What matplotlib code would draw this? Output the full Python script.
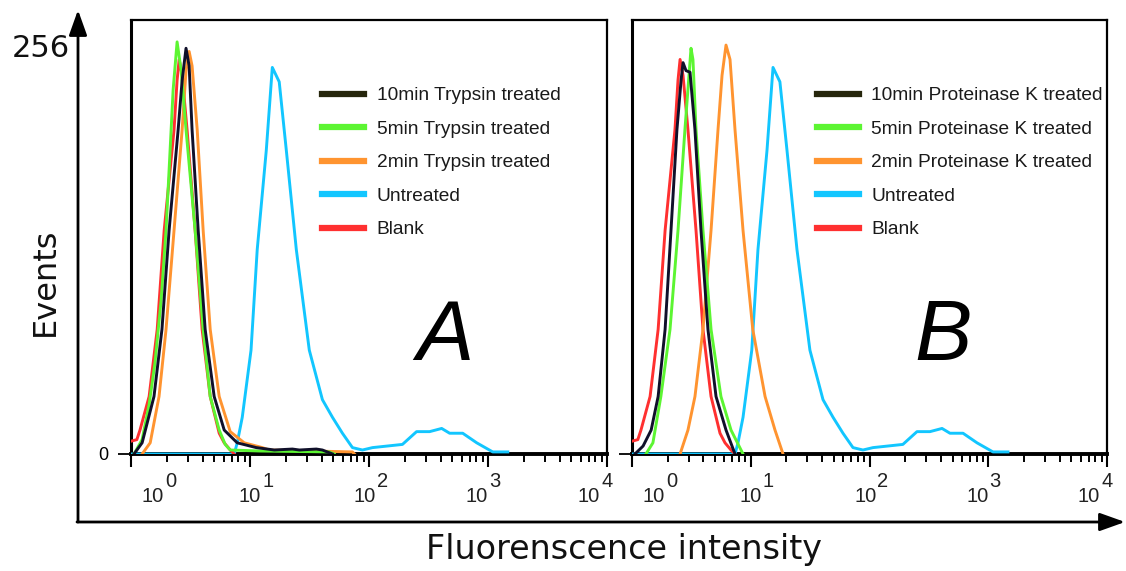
import matplotlib
matplotlib.use('Agg')
import matplotlib.pyplot as plt
from matplotlib import font_manager
from matplotlib.ticker import LogLocator, NullFormatter, FixedLocator
from matplotlib.transforms import blended_transform_factory, offset_copy

# Histogram traces: fluorescence intensity (x) vs events (y)
blank_x = [1.00, 1.12, 1.19, 1.42, 1.66, 1.90, 2.30, 2.44, 2.54, 2.69, 2.96, 3.46, 3.96, 4.63, 5.51, 6.07, 6.82, 7.37]
blank_y = [8, 9, 15, 36, 78, 140, 203, 234, 247, 237, 203, 140, 78, 36, 13, 7, 2.5, 0]

untreated_x = [1.00, 7.37, 7.81, 8.61, 10.2, 11.5, 13.7, 15.4, 17.6, 20.2, 24.5, 31.5, 40.6, 49.3, 59.8,
               72.6, 88.1, 107, 191, 251, 323, 408, 476, 613, 804, 1096, 1466]
untreated_y = [0, 0, 7, 23, 65, 128, 190, 242, 233, 190, 128, 65, 34, 23, 13,
               4, 2.5, 4, 6, 14, 14, 16, 13, 13, 7, 1.3, 1.3]

# panel A: trypsin
tryp10_x = [1.06, 1.24, 1.56, 1.82, 2.09, 2.49, 2.69, 2.90, 3.08, 3.26, 3.67, 4.20, 5.00, 6.07, 7.81,
            11.3, 16.0, 22.7, 26.0, 36.1, 40.6, 49.3]
tryp10_y = [0, 7, 36, 78, 140, 203, 234, 254, 243, 203, 140, 78, 36, 15, 7,
            4, 2.5, 3.1, 2.5, 3.1, 2.5, 0]
tryp5_x = [1.06, 1.24, 1.42, 1.59, 1.79, 1.97, 2.13, 2.26, 2.44, 2.64, 2.90, 3.46, 4.04, 4.63, 5.51,
           6.19, 6.82, 12.0, 46.5, 51.0]
tryp5_y = [0, 9, 31, 57, 96, 140, 190, 228, 258, 240, 203, 140, 78, 36, 15,
           6, 2.5, 1.9, 1.3, 0]
tryp2_x = [1.24, 1.45, 1.72, 1.97, 2.30, 2.69, 2.90, 3.08, 3.26, 3.60, 4.04, 4.63, 5.51, 6.82, 8.95,
           12.7, 14.5, 72.6, 75.5]
tryp2_y = [0, 7, 36, 78, 140, 203, 240, 252, 243, 203, 140, 78, 36, 14, 7,
           4, 2.5, 1.3, 0]

# panel B: proteinase K
pk10_x = [1.06, 1.24, 1.45, 1.66, 1.90, 2.13, 2.39, 2.59, 2.69, 2.85, 3.08, 3.39, 3.81, 4.36, 5.10, 6.19, 7.37]
pk10_y = [0, 5, 15, 36, 78, 140, 203, 234, 245, 240, 239, 203, 140, 78, 36, 15, 0]
pk5_x = [1.31, 1.50, 1.75, 2.09, 2.44, 2.79, 3.02, 3.14, 3.26, 3.46, 3.96, 4.63, 5.61, 6.82, 8.61]
pk5_y = [0, 7, 36, 78, 140, 203, 237, 254, 247, 203, 140, 78, 36, 15, 0]
pk2_x = [2.54, 2.96, 3.39, 3.96, 4.63, 5.30, 5.73, 6.19, 6.69, 7.37, 8.61, 10.4, 13.2, 16.0, 18.7]
pk2_y = [0, 15, 36, 78, 140, 203, 237, 256, 247, 203, 140, 78, 36, 15, 0]

decades = [0, 1, 2, 3, 4]
y_top = 271.7

c_black = '#10102a'
c_green = '#5cf532'
c_orange = '#ff9430'
c_blue = '#12c6ff'
c_red = '#ff3030'

try:
    font_manager.findfont('Liberation Sans Narrow', fallback_to_default=False)
    leg_font, leg_size, leg_space = 'Liberation Sans Narrow', 16.5, 0.45
except Exception:
    leg_font, leg_size, leg_space = 'Liberation Sans', 13.8, 0.84

fig = plt.figure(figsize=(11.26, 5.71), dpi=100)
W, H = 1126, 571
axA = fig.add_axes([131 / W, (H - 454) / H, 476 / W, 434 / H])
axB = fig.add_axes([632 / W, (H - 454) / H, 475 / W, 434 / H])


def setup(ax, show_zero):
    ax.set_xscale('log')
    ax.set_xlim(1, 1e4)
    ax.set_ylim(0, y_top)
    ax.xaxis.set_major_locator(FixedLocator([10.0 ** d for d in decades]))
    ax.xaxis.set_minor_locator(LogLocator(base=10, subs=range(2, 10)))
    ax.xaxis.set_major_formatter(NullFormatter())
    ax.xaxis.set_minor_formatter(NullFormatter())
    ax.tick_params(axis='x', which='major', length=9.5, width=1.5, direction='out')
    ax.tick_params(axis='x', which='minor', length=5.5, width=1.4, direction='out')
    ax.set_yticks([0])
    ax.set_yticklabels(['0'] if show_zero else [''], fontfamily='Liberation Sans', fontsize=13)
    ax.tick_params(axis='y', length=9.5, width=1.3, pad=7)
    for s in ['left', 'top', 'right']:
        ax.spines[s].set_linewidth(1.6)
    ax.spines['bottom'].set_linewidth(2.8)
    ax.spines['left'].set_linewidth(2.2)
    # decade labels 10^n drawn as base + raised exponent
    label_shift = [33, 11, 7, 0, -7]
    base = blended_transform_factory(ax.transData, ax.transAxes)
    for d, sh in zip(decades, label_shift):
        t1 = offset_copy(base, fig=fig, x=sh, y=-48, units='dots')
        ax.text(10.0 ** d, 0, '10', transform=t1, ha='right', va='baseline',
                fontsize=14.5, fontfamily='Liberation Sans', color='#222222')
        t2 = offset_copy(base, fig=fig, x=sh + 1, y=-33, units='dots')
        ax.text(10.0 ** d, 0, str(d), transform=t2, ha='left', va='baseline',
                fontsize=14.5, fontfamily='Liberation Sans', color='#222222')


def draw(ax, series, legend_x, letter, letter_x):
    handles = []
    for x, y, c, lab in series:
        ln, = ax.plot(x, y, color=c, lw=2.1, label=lab, zorder=3)
        handles.append(ln)
    # legend order: 10min, 5min, 2min, Untreated, Blank
    order = [4, 3, 2, 0, 1]
    leg = ax.legend([handles[i] for i in order], [series[i][3] for i in order],
                    loc='upper left', bbox_to_anchor=(legend_x, 0.846), frameon=False,
                    borderpad=0, borderaxespad=0, handlelength=2.2, handletextpad=0.65,
                    labelspacing=leg_space, prop={'family': leg_font, 'size': leg_size})
    for i, line in enumerate(leg.get_lines()):
        line.set_linewidth(4.5)
        if i == 0:
            line.set_color('#26260c')
    for t in leg.get_texts():
        t.set_color('#1a1a1a')
    ax.text(letter_x, 0.268, letter, transform=ax.transAxes, fontsize=62,
            fontstyle='italic', fontfamily='Liberation Sans', ha='center', va='center')


setup(axA, True)
setup(axB, False)

draw(axA, [
    (untreated_x, untreated_y, c_blue, 'Untreated'),
    (blank_x, blank_y, c_red, 'Blank'),
    (tryp2_x, tryp2_y, c_orange, '2min Trypsin treated'),
    (tryp5_x, tryp5_y, c_green, '5min Trypsin treated'),
    (tryp10_x, tryp10_y, c_black, '10min Trypsin treated'),
], 0.401, 'A', 0.66)

draw(axB, [
    (untreated_x, untreated_y, c_blue, 'Untreated'),
    (blank_x, blank_y, c_red, 'Blank'),
    (pk2_x, pk2_y, c_orange, '2min Proteinase K treated'),
    (pk5_x, pk5_y, c_green, '5min Proteinase K treated'),
    (pk10_x, pk10_y, c_black, '10min Proteinase K treated'),
], 0.389, 'B', 0.655)

# outer axes arrows
arrow = dict(arrowstyle='-|>,head_length=0.7,head_width=0.25', lw=2, color='black',
             mutation_scale=22, shrinkA=0, shrinkB=0)
fig.add_artist(plt.Annotation('', xy=(78, H - 10), xytext=(78, H - 522),
                              xycoords='figure pixels', arrowprops=arrow))
fig.add_artist(plt.Annotation('', xy=(1125, H - 522), xytext=(77, H - 522),
                              xycoords='figure pixels', arrowprops=arrow))

fig.text(70 / W, 1 - 57 / H, '256', ha='right', va='baseline', fontsize=22, color='#111111')
fig.text(45 / W, 1 - 282 / H, 'Events', rotation=90, ha='center', va='center', fontsize=23,
         color='#111111')
fig.text(624 / W, 1 - 550 / H, 'Fluorenscence intensity', ha='center', va='center', fontsize=24,
         color='#111111')

fig.savefig('out.png', dpi=100)
